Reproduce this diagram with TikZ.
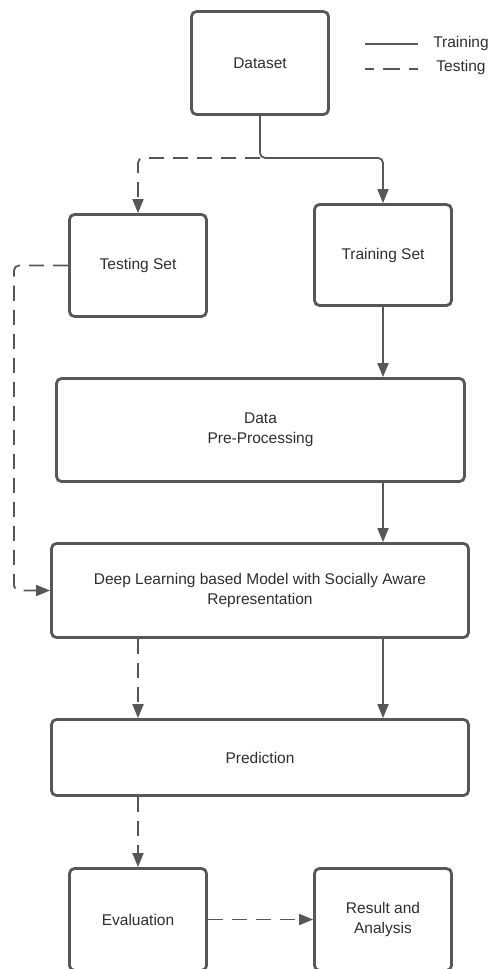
\documentclass[tikz,border=0pt]{standalone}
\usepackage{fontspec}
\setmainfont{Liberation Sans}
\usetikzlibrary{arrows.meta}
\definecolor{ink}{HTML}{575757}
\definecolor{txt}{HTML}{2E2E2E}

\begin{document}
\begin{tikzpicture}[x=1pt,y=-1pt,
  box/.style={draw=ink, line width=2.8pt, rounded corners=5pt, fill=white,
    font=\fontsize{15.5}{20}\selectfont, text=txt, align=center, inner sep=0pt},
  flow/.style={draw=ink, line width=1.8pt, rounded corners=5pt,
    -{Triangle[length=14pt,width=11pt]}},
  testflow/.style={flow, dash pattern=on 15pt off 9pt},
  legendtext/.style={font=\fontsize{15.5}{18}\selectfont, text=txt, inner sep=0pt}]
\useasboundingbox (0,0) rectangle (490,969);
\clip (0,0) rectangle (490,969);

% process boxes
\node[box, minimum width=137pt, minimum height=103pt] (dataset)    at (260,63)    {Dataset};
\node[box, minimum width=137pt, minimum height=102pt] (testing)    at (138,265.5) {Testing Set};
\node[box, minimum width=137pt, minimum height=101pt] (training)   at (383,255)   {Training Set};
\node[box, minimum width=408pt, minimum height=103pt] (pre)        at (260.5,430) {Data\\Pre-Processing};
\node[box, minimum width=417pt, minimum height=94pt]  (deep)       at (260,590.5) {Deep Learning based Model with Socially Aware\\Representation};
\node[box, minimum width=417pt, minimum height=76pt]  (prediction) at (260,757.5) {Prediction};
\node[box, minimum width=137pt, minimum height=102pt] (evaluation) at (138,919.5) {Evaluation};
\node[box, minimum width=137pt, minimum height=102pt] (result)     at (383,919.5) {Result and\\Analysis};

% legend
\node[legendtext] (legtrain) at (461,43) {Training};
\node[legendtext] (legtest)  at (461,67) {Testing};
\coordinate (ltrA) at (365,44);
\coordinate (ltrB) at (418,44);
\coordinate (lteA) at (365,69);
\coordinate (lteB) at (418,69);
\draw[ink, line width=1.6pt] (ltrA) -- (ltrB);
\draw[ink, line width=1.6pt, dash pattern=on 17pt off 9pt, dash phase=8pt] (lteA) -- (lteB);

% split of the dataset
\path (dataset.south) ++(0,42) coordinate (split);
\draw[flow] (dataset.south) -- (split) -| (training.north);
\draw[testflow] (split) -| (testing.north);

% testing path into the model
\draw[testflow] (testing.west) -- (testing.west -| 14,0) |- (deep.west);

% training path
\draw[flow] (training.south) -- (training.south |- pre.north);
\draw[flow] (pre.south -| training.south) -- (deep.north -| training.south);
\draw[flow] (deep.south -| training.south) -- (prediction.north -| training.south);

% testing path after the model
\draw[testflow] (deep.south -| testing.south) -- (prediction.north -| testing.south);
\draw[testflow] (prediction.south -| evaluation.north) -- (evaluation.north);
\draw[testflow] (evaluation.east) -- (result.west);
\end{tikzpicture}
\end{document}
